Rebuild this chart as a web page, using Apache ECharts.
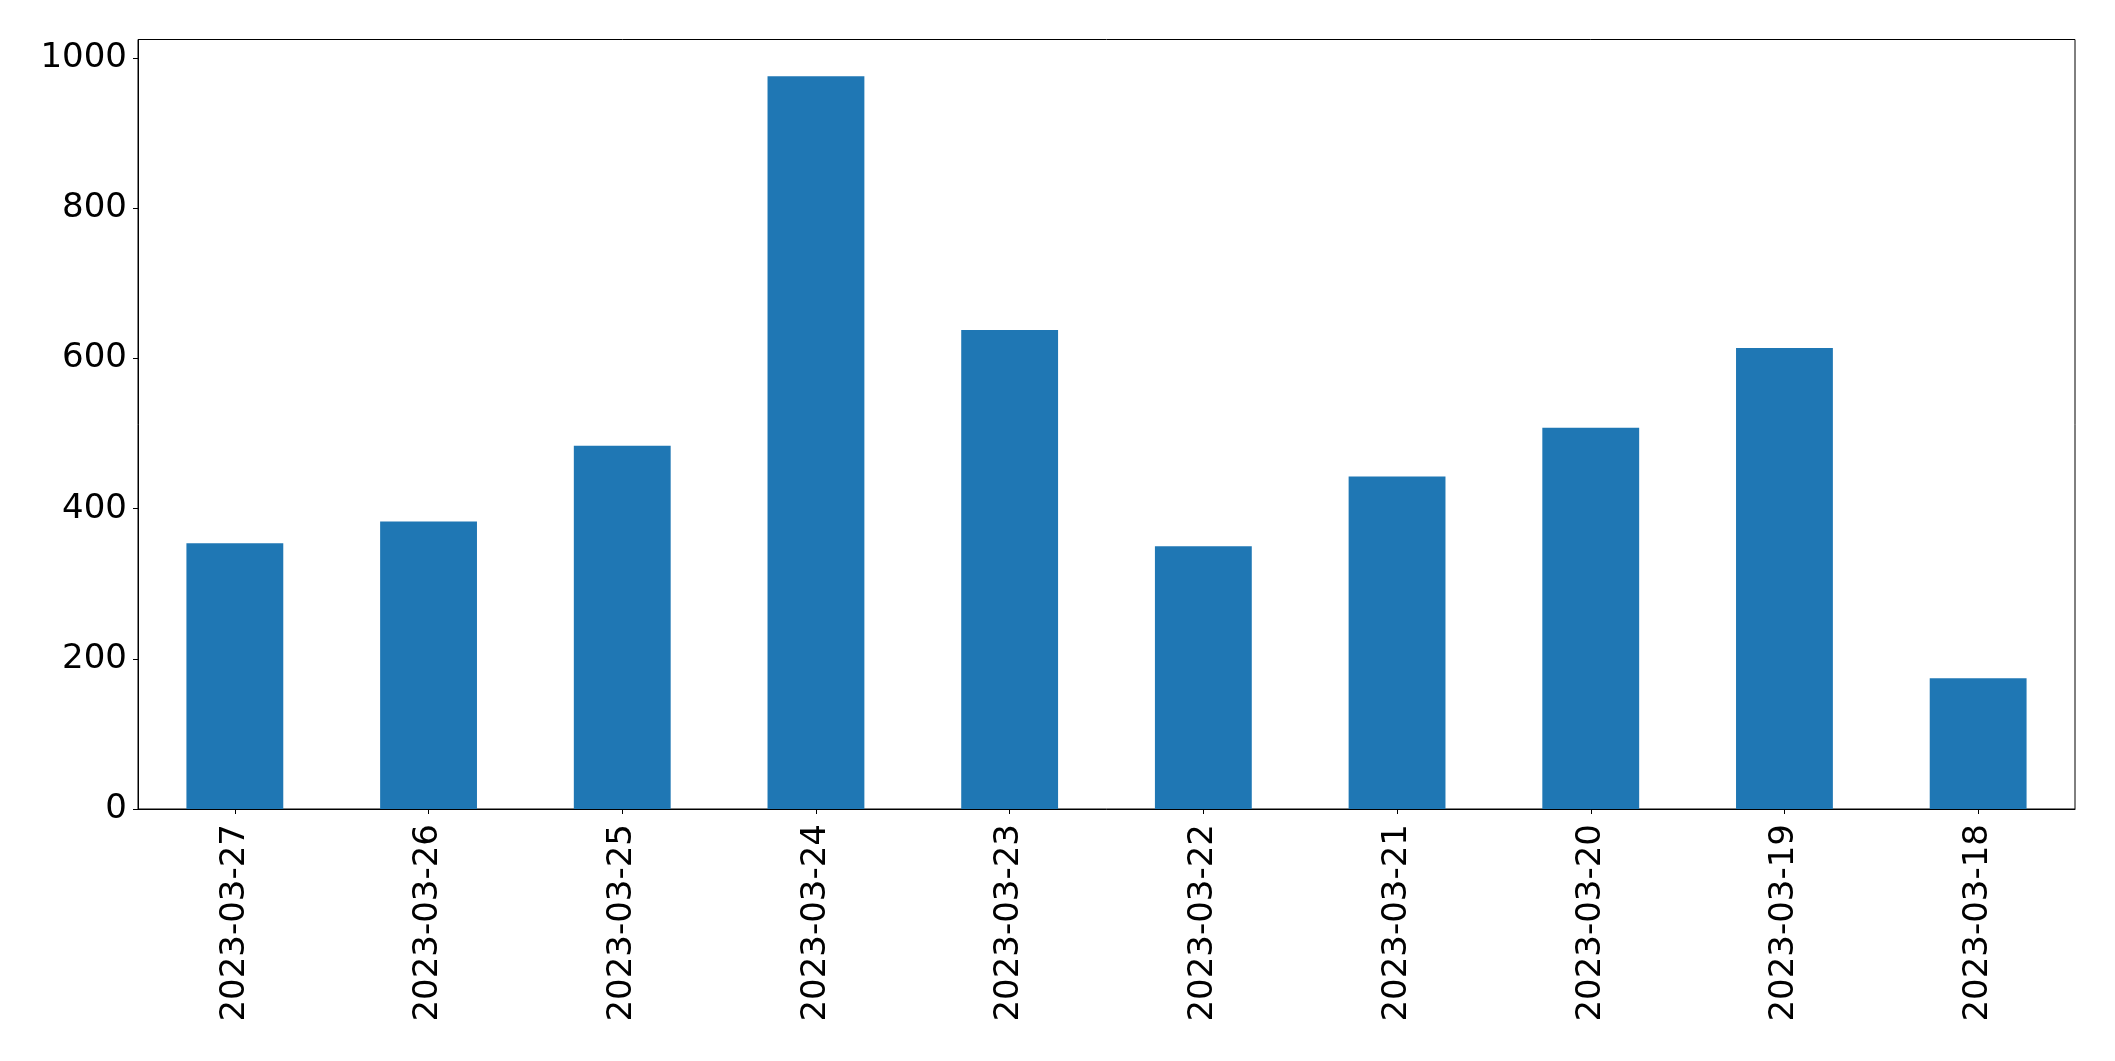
<!DOCTYPE html>
<html>
<head>
<meta charset="utf-8">
<script src="https://cdn.jsdelivr.net/npm/echarts@6/dist/echarts.min.js"></script>
<style>
  html, body { margin: 0; padding: 0; background: #fff; }
  #chart { width: 2115px; height: 1061px; }
</style>
</head>
<body>
<div id="chart"></div>
<script>
// dates as shown on the x axis (newest first)
const dates = ['2023-03-27', '2023-03-26', '2023-03-25', '2023-03-24', '2023-03-23',
  '2023-03-22', '2023-03-21', '2023-03-20', '2023-03-19', '2023-03-18'];
const counts = [354, 383, 484, 976, 638, 350, 443, 508, 614, 174];
const yTicks = [0, 200, 400, 600, 800, 1000];

const chart = echarts.init(document.getElementById('chart'), null, { renderer: 'canvas' });

const font = 'DejaVu Sans';

chart.setOption({
  backgroundColor: '#fff',
  animation: false,
  grid: {
    left: 138, right: 40, top: 39.5, bottom: 252,
    show: true, borderColor: '#000', borderWidth: 1
  },
  xAxis: {
    type: 'category',
    data: dates,
    axisLine: { show: true, lineStyle: { color: '#000', width: 1 } },
    axisTick: { show: true, alignWithLabel: true, length: 5, lineStyle: { color: '#000' } },
    axisLabel: {
      rotate: 90, margin: 15, color: '#000', fontSize: 34, fontFamily: font
    },
    splitLine: { show: false }
  },
  yAxis: {
    type: 'value',
    min: 0, max: 1025,
    axisLine: { show: true, lineStyle: { color: '#000', width: 1 } },
    axisTick: { show: true, length: 5, customValues: yTicks, lineStyle: { color: '#000' } },
    axisLabel: {
      customValues: yTicks, margin: 11, color: '#000', fontSize: 34, fontFamily: font,
      formatter: v => String(v)
    },
    splitLine: { show: false }
  },
  series: [{
    type: 'bar',
    data: counts,
    barWidth: '50%',
    itemStyle: { color: '#1f77b4' }
  }]
});
</script>
</body>
</html>
